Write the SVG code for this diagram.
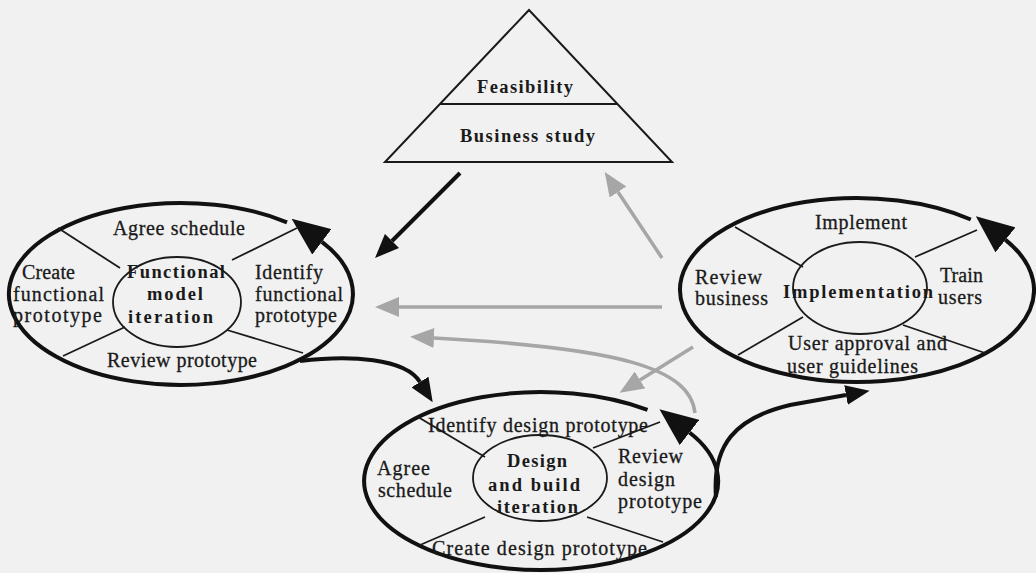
<svg xmlns="http://www.w3.org/2000/svg" width="1036" height="573" viewBox="0 0 1036 573">
<style>
.bg{fill:#f1f1f1}
.outer{fill:none;stroke:#111;stroke-width:4}
.inner{fill:none;stroke:#1a1a1a;stroke-width:1.8}
.div{stroke:#1a1a1a;stroke-width:1.8}
.tri{fill:none;stroke:#1a1a1a;stroke-width:2}
.t{font-family:"Liberation Serif","Times New Roman",serif;font-size:20px;fill:#1a1a1a;stroke:#1a1a1a;stroke-width:0.3}
.b{font-family:"Liberation Serif","Times New Roman",serif;font-size:18.5px;font-weight:bold;fill:#1a1a1a}
.blk{fill:none;stroke:#111;stroke-width:4}
.gry{fill:none;stroke:#a6a6a6;stroke-width:3.5}
</style>
<defs>
<marker id="big" viewBox="0 0 38 32" markerWidth="38" markerHeight="32" refX="0" refY="16" orient="auto" markerUnits="userSpaceOnUse"><path d="M0,0 L38,16 L0,32 Z" fill="#111"/></marker>
<marker id="ab" viewBox="0 0 24 20" markerWidth="24" markerHeight="20" refX="0" refY="10" orient="auto" markerUnits="userSpaceOnUse"><path d="M0,0 L24,10 L0,20 Z" fill="#111"/></marker>
<marker id="ag" viewBox="0 0 24 20" markerWidth="24" markerHeight="20" refX="0" refY="10" orient="auto" markerUnits="userSpaceOnUse"><path d="M0,0 L24,10 L0,20 Z" fill="#a6a6a6"/></marker>
</defs>
<rect class="bg" x="0" y="0" width="1036" height="573"/>

<g id="node-feasibility">
<polygon class="tri" points="529,10 385,162 672,162"/>
<line class="tri" x1="440" y1="104" x2="617" y2="104"/>
<text class="b" x="477" y="93" textLength="96" lengthAdjust="spacing">Feasibility</text>
<text class="b" x="460" y="142" textLength="135" lengthAdjust="spacing">Business study</text>
</g>

<g id="node-functional">
<path class="outer" d="M287,222.3 A172,91 0 1 0 321.9,241.8" marker-end="url(#big)"/>
<ellipse class="inner" cx="177" cy="302" rx="64" ry="45"/>
<line class="div" x1="58" y1="228" x2="120" y2="268"/>
<line class="div" x1="232" y1="260" x2="297" y2="228"/>
<line class="div" x1="125" y1="327" x2="63" y2="356"/>
<line class="div" x1="227" y1="330" x2="303" y2="353"/>
<text class="t" x="113" y="235" textLength="132" lengthAdjust="spacing">Agree schedule</text>
<text class="t" x="22" y="279" textLength="53" lengthAdjust="spacing">Create</text>
<text class="t" x="13" y="301" textLength="91" lengthAdjust="spacing">functional</text>
<text class="t" x="13" y="322" textLength="89" lengthAdjust="spacing">prototype</text>
<text class="b" x="127" y="278" textLength="98" lengthAdjust="spacing">Functional</text>
<text class="b" x="147" y="300" textLength="56" lengthAdjust="spacing">model</text>
<text class="b" x="128" y="323" textLength="85" lengthAdjust="spacing">iteration</text>
<text class="t" x="255" y="279" textLength="68" lengthAdjust="spacing">Identify</text>
<text class="t" x="255" y="301" textLength="88" lengthAdjust="spacing">functional</text>
<text class="t" x="255" y="322" textLength="82" lengthAdjust="spacing">prototype</text>
<text class="t" x="107" y="367" textLength="150" lengthAdjust="spacing">Review prototype</text>
</g>

<g id="node-design">
<path class="outer" d="M647.5,409.9 A177,89 0 1 0 689.5,432.5" marker-end="url(#big)"/>
<ellipse class="inner" cx="540" cy="478" rx="67" ry="43"/>
<line class="div" x1="418" y1="417" x2="485" y2="457"/>
<line class="div" x1="593" y1="448" x2="660" y2="422"/>
<line class="div" x1="485" y1="517" x2="420" y2="545"/>
<line class="div" x1="587" y1="517" x2="663" y2="542"/>
<text class="t" x="428" y="432" textLength="220" lengthAdjust="spacing">Identify design prototype</text>
<text class="t" x="377" y="475" textLength="53" lengthAdjust="spacing">Agree</text>
<text class="t" x="378" y="497" textLength="74" lengthAdjust="spacing">schedule</text>
<text class="b" x="507" y="467" textLength="60" lengthAdjust="spacing">Design</text>
<text class="b" x="488" y="491" textLength="92" lengthAdjust="spacing">and build</text>
<text class="b" x="497" y="513" textLength="81" lengthAdjust="spacing">iteration</text>
<text class="t" x="618" y="463" textLength="65" lengthAdjust="spacing">Review</text>
<text class="t" x="618" y="486" textLength="57" lengthAdjust="spacing">design</text>
<text class="t" x="618" y="508" textLength="84" lengthAdjust="spacing">prototype</text>
<text class="t" x="432" y="555" textLength="215" lengthAdjust="spacing">Create design prototype</text>
</g>

<g id="node-implementation">
<path class="outer" d="M970.8,219.5 A177,92 0 1 0 1005.5,239.9" marker-end="url(#big)"/>
<ellipse class="inner" cx="860" cy="288" rx="67" ry="46"/>
<line class="div" x1="735" y1="227" x2="803" y2="267"/>
<line class="div" x1="915" y1="257" x2="977" y2="230"/>
<line class="div" x1="803" y1="317" x2="738" y2="355"/>
<line class="div" x1="903" y1="325" x2="985" y2="353"/>
<text class="t" x="815" y="229" textLength="92" lengthAdjust="spacing">Implement</text>
<text class="t" x="695" y="284" textLength="67" lengthAdjust="spacing">Review</text>
<text class="t" x="695" y="305" textLength="73" lengthAdjust="spacing">business</text>
<text class="b" x="783" y="298" textLength="150" lengthAdjust="spacing">Implementation</text>
<text class="t" x="940" y="282" textLength="43" lengthAdjust="spacing">Train</text>
<text class="t" x="938" y="304" textLength="44" lengthAdjust="spacing">users</text>
<text class="t" x="788" y="350" textLength="159" lengthAdjust="spacing">User approval and</text>
<text class="t" x="787" y="373" textLength="131" lengthAdjust="spacing">user guidelines</text>
</g>

<g id="connectors">
<path class="blk" d="M460,173 L392,241" marker-end="url(#ab)"/>
<path class="gry" d="M662,258 L618,192" marker-end="url(#ag)"/>
<path class="gry" d="M662,307 L399,307" marker-end="url(#ag)"/>
<path class="gry" d="M695,413 C690,368 620,348 434,338" marker-end="url(#ag)"/>
<path class="gry" d="M693,347 L640,380" marker-end="url(#ag)"/>
<path class="blk" d="M300,361 C350,355 405,358 420,382" marker-end="url(#ab)"/>
<path class="blk" d="M716,497 C712,445 735,418 790,405 L846,395" marker-end="url(#ab)"/>
</g>
</svg>
